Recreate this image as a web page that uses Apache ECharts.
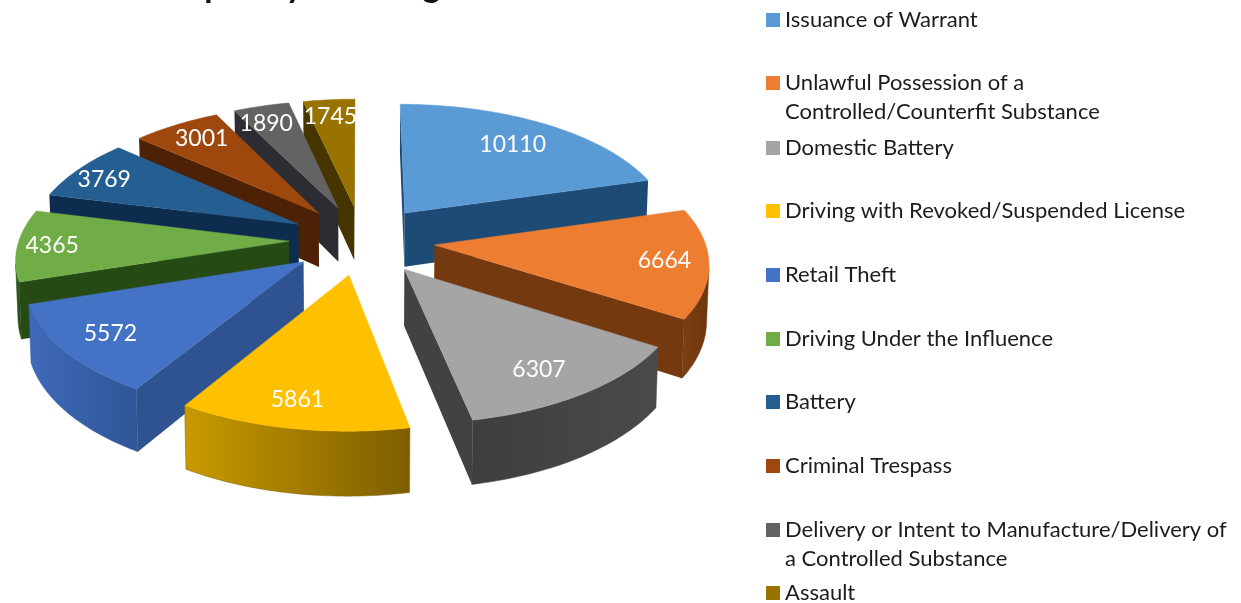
<!DOCTYPE html>
<html>
<head>
<meta charset="utf-8">
<style>html,body{margin:0;padding:0;background:#fff;overflow:hidden}#c{width:1241px;height:603px}</style>
<script src="https://cdn.jsdelivr.net/npm/echarts@6/dist/echarts.min.js"></script>
</head>
<body>
<div id="c"></div>
<script>
const titleText = 'Frequency of Charges';
const categories = [
  'Issuance of Warrant',
  'Unlawful Possession of a\nControlled/Counterfit Substance',
  'Domestic Battery',
  'Driving with Revoked/Suspended License',
  'Retail Theft',
  'Driving Under the Influence',
  'Battery',
  'Criminal Trespass',
  'Delivery or Intent to Manufacture/Delivery of\na Controlled Substance',
  'Assault'
];
const values = [10110, 6664, 6307, 5861, 5572, 4365, 3769, 3001, 1890, 1745];
const topColors = ['#5B9BD5','#ED7D31','#A5A5A5','#FFC000','#4472C4','#70AD47','#255E91','#9E480E','#636363','#997300'];
const sideColors = ['#1E4B75','#74390F','#424242','#7D5E00','#2F5290','#254A14','#0E2D4E','#4C2106','#2C2C33','#473500'];
const arcStart = ['#1E4B75','#7E3F12','#3E3E3E','#C99A00','#3F6ABA','#2F5A1C','#123A60','#5A2808','#333','#473500'];
const arcEnd = ['#1E4B75','#6E360E','#4A4A4A','#7D5E00','#2F5596','#254A14','#0E2D4E','#4C2106','#333','#473500'];

// projection of the tilted, exploded pie
const CX = 362, CY = 240, AX = 270, AY = 128, PERSP = 0.1206, DEPTH = 55, EXPLODE = 0.27, SHRINK = 0.993;
const labelRadius = [0.75, 0.84, 0.78, 0.85, 0.82, 0.88, 0.85, 0.82, 0.83, 0.85];
const labelNudgeX = [0, 0, -2, -4, 0, 2, -6, 2, -7, -2];
const labelNudgeY = [0, 0, 6, -3, 0, 1, 2, -1, 1, 2];
const legendFirstLine = [20, 83, 148, 211, 275, 339, 402, 466, 530, 593];
const total = values.reduce((a, b) => a + b, 0);
const starts = values.map((v, i) => values.slice(0, i).reduce((a, b) => a + b, 0) / total * Math.PI * 2);
const sweeps = values.map(v => v / total * Math.PI * 2);
const exY = starts.map((s, i) => EXPLODE * Math.cos(s + sweeps[i] / 2));
const rank = exY.map((e, i) => [e, i]).sort((a, b) => b[0] - a[0]).map(p => p[1]);

function proj(X, Y) {
  const w = 1 + PERSP * Y;
  return { x: CX + AX * X / w, y: CY - AY * Y / w, w };
}
function down(p) {
  return [CX + (p.x - CX) * SHRINK, p.y + DEPTH / p.w];
}
function visible(a, b) {
  const q = [[a.x, a.y], [b.x, b.y], down(b), down(a)];
  let s = 0;
  for (let i = 0; i < 4; i++) {
    const u = q[i], v = q[(i + 1) % 4];
    s += u[0] * v[1] - v[0] * u[1];
  }
  return s < 0;
}
function renderSlice(params, api) {
  const i = params.seriesIndex;
  const sweep = api.value(0) / total * Math.PI * 2;
  const a0 = starts[i], mid = a0 + sweep / 2;
  const ex = EXPLODE * Math.sin(mid), ey = EXPLODE * Math.cos(mid);
  const at = (ang, r) => proj(ex + r * Math.sin(ang), ey + r * Math.cos(ang));
  const apex = at(0, 0);
  const n = Math.max(8, Math.ceil(sweep / 0.02));
  const arc = [];
  for (let k = 0; k <= n; k++) arc.push(at(a0 + sweep * k / n, 1));
  const children = [];
  const wall = (a, b) => {
    if (visible(a, b)) children.push({
      type: 'polygon', silent: true,
      shape: { points: [[a.x, a.y], [b.x, b.y], down(b), down(a)] },
      style: { fill: sideColors[i] }
    });
  };
  wall(apex, arc[0]);
  wall(arc[n], apex);
  // outer wall: only the runs of the rim that face the viewer
  let run = [];
  const flush = () => {
    if (run.length > 1) {
      const pts = run.map(p => [p.x, p.y]).concat(run.slice().reverse().map(down));
      children.push({
        type: 'polygon', silent: true, shape: { points: pts },
        style: {
          fill: new echarts.graphic.LinearGradient(0, 0, 1, 0, [
            { offset: 0, color: arcStart[i] }, { offset: 1, color: arcEnd[i] }
          ]),
          stroke: arcEnd[i], lineWidth: 0.5
        }
      });
    }
    run = [];
  };
  for (let k = 0; k < n; k++) {
    if (visible(arc[k], arc[k + 1])) {
      if (!run.length) run.push(arc[k]);
      run.push(arc[k + 1]);
    } else flush();
  }
  flush();
  children.push({
    type: 'polygon', silent: true,
    shape: { points: [[apex.x, apex.y]].concat(arc.map(p => [p.x, p.y])) },
    style: { fill: topColors[i], stroke: topColors[i], lineWidth: 0.5 }
  });
  const lp = at(mid, labelRadius[i]);
  children.push({
    type: 'text', silent: true, x: lp.x + labelNudgeX[i], y: lp.y + labelNudgeY[i],
    style: { text: String(api.value(0)), fill: '#fff', font: '400 23px Lato', align: 'center', verticalAlign: 'middle' }
  });
  return { type: 'group', children };
}

const LINE = 29;
const chart = echarts.init(document.getElementById('c'), null, { renderer: 'canvas' });
chart.setOption({
  animation: false,
  backgroundColor: '#fff',
  title: {
    text: titleText, left: 145, top: -31, padding: 0,
    textStyle: { fontFamily: 'Lato', fontWeight: 'bold', fontSize: 34, color: '#111' }
  },
  legend: categories.map((c, i) => {
    const two = c.indexOf('\n') >= 0;
    return {
      data: [c], left: 766, top: legendFirstLine[i] - LINE / 2, padding: 0, orient: 'vertical',
      selectedMode: false, itemWidth: 14, itemHeight: two ? 14 + LINE : 14,
      icon: two ? 'path://M0 0H14V14H0Z M0 43L0 43Z' : 'rect',
      textStyle: { fontFamily: 'Lato', fontSize: 22, lineHeight: LINE, color: '#1c1c1c' }
    };
  }),
  series: categories.map((c, i) => ({
    type: 'custom', name: c, coordinateSystem: 'none', z: 2 + rank.indexOf(i),
    itemStyle: { color: topColors[i] },
    data: [[values[i]]], renderItem: renderSlice, silent: true
  }))
});
</script>
</body>
</html>
